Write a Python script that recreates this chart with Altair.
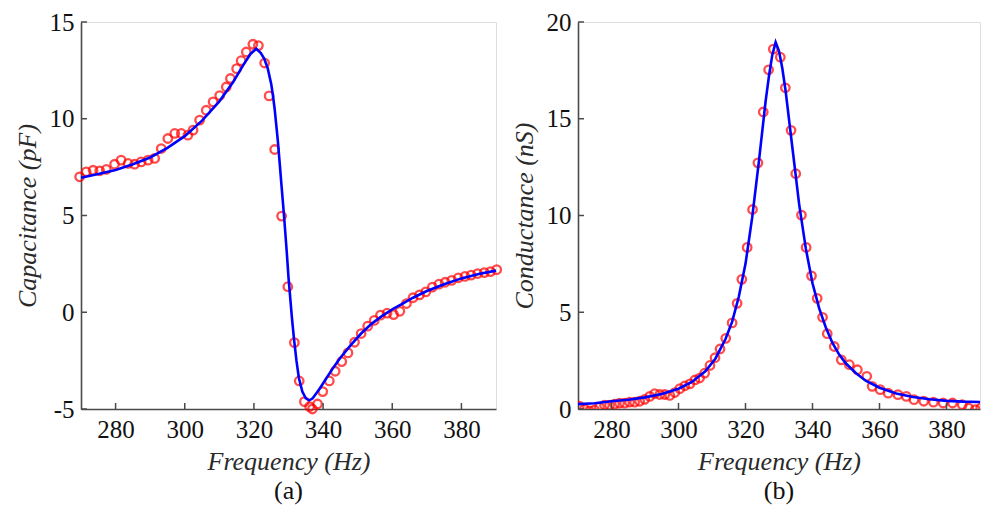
import altair as alt
import pandas as pd

# ---------------- Panel (a): capacitance ----------------
cap_freq = [269.6, 271.5, 273.5, 275.4, 277.3, 279.7, 281.6, 283.6, 285.5, 287.4,
            289.4, 291.3, 293.2, 295.1, 297.1, 299.0, 300.9, 302.4, 304.3, 306.2,
            308.2, 310.1, 312.0, 313.2, 315.0, 316.3, 317.8, 319.7, 321.3, 323.1,
            324.4, 326.0, 328.0, 329.8, 331.7, 333.1, 334.6, 336.1, 336.9, 338.4,
            339.9, 341.8, 343.5, 345.4, 347.2, 349.1, 351.0, 352.9, 354.8, 356.6,
            358.5, 360.4, 362.2, 364.1, 366.0, 367.9, 369.7, 371.6, 373.5, 375.3,
            377.2, 379.1, 381.0, 382.8, 384.7, 386.6, 388.4, 390.2]
cap_vals = [7.00, 7.26, 7.34, 7.31, 7.38, 7.65, 7.86, 7.69, 7.65, 7.77,
            7.86, 7.95, 8.46, 8.98, 9.24, 9.24, 9.15, 9.41, 9.93, 10.44,
            10.87, 11.20, 11.64, 12.08, 12.59, 13.00, 13.45, 13.85, 13.78, 12.88,
            11.18, 8.41, 4.97, 1.32, -1.57, -3.55, -4.62, -4.88, -5.00, -4.74,
            -4.10, -3.55, -3.05, -2.55, -2.10, -1.55, -1.10, -0.72, -0.42, -0.15,
            -0.05, -0.12, 0.05, 0.45, 0.75, 0.90, 1.05, 1.30, 1.45, 1.55,
            1.65, 1.78, 1.85, 1.92, 2.00, 2.05, 2.10, 2.20]

cap_fit_freq = [270, 275, 280, 285, 290, 295, 300, 305, 310, 314, 317, 319, 320.7,
                322, 323, 324, 325, 325.5, 326, 326.9, 327.5, 328, 328.7, 329.5, 330,
                331, 331.6, 332.3, 333, 334, 335, 336, 337, 338, 339, 341, 343, 345,
                348, 351, 354, 357, 360, 363, 366, 370, 375, 380, 385, 390]
cap_fit_vals = [6.95, 7.15, 7.35, 7.65, 8.0, 8.5, 9.1, 9.9, 10.9, 11.9, 12.8, 13.35, 13.62,
                13.4, 13.1, 12.6, 11.8, 11.2, 10.5, 8.9, 7.6, 6.5, 5.0, 3.1, 1.8,
                -0.3, -1.4, -2.5, -3.4, -4.1, -4.45, -4.55, -4.45, -4.2, -3.95, -3.4, -2.85, -2.35,
                -1.7, -1.1, -0.6, -0.2, 0.15, 0.45, 0.75, 1.1, 1.45, 1.75, 1.98, 2.15]

# ---------------- Panel (b): conductance ----------------
cond_freq = [270.4, 271.9, 273.4, 274.9, 276.4, 277.9, 279.4, 280.9, 282.4, 283.9,
             285.4, 286.9, 288.4, 289.9, 291.4, 292.9, 294.4, 295.9, 297.4, 298.9,
             300.4, 301.9, 303.4, 304.9, 306.3, 307.8, 309.4, 310.9, 312.4, 314.1,
             316.0, 317.5, 318.9, 320.5, 322.1, 323.7, 325.3, 326.9, 328.3, 330.4,
             331.9, 333.6, 335.0, 336.7, 338.1, 339.7, 341.4, 343.0, 344.4, 346.5,
             348.6, 351.0, 353.4, 356.2, 357.8, 360.2, 362.6, 365.5, 368.0, 370.3,
             373.2, 376.1, 379.0, 381.8, 384.7, 386.6, 388.6, 390.2]
cond_vals = [0.15, 0.00, -0.10, -0.05, 0.10, 0.20, 0.20, 0.25, 0.30, 0.30,
             0.35, 0.35, 0.40, 0.50, 0.65, 0.80, 0.75, 0.75, 0.70, 0.85,
             1.05, 1.20, 1.30, 1.50, 1.60, 1.85, 2.25, 2.65, 3.10, 3.65,
             4.45, 5.46, 6.70, 8.35, 10.31, 12.72, 15.35, 17.53, 18.60, 18.18,
             16.60, 14.40, 12.16, 10.02, 8.35, 6.88, 5.72, 4.74, 3.89, 3.23,
             2.54, 2.29, 2.03, 1.69, 1.17, 1.00, 0.82, 0.74, 0.65, 0.48,
             0.40, 0.35, 0.31, 0.31, 0.22, 0.05, -0.03, 0.05]

cond_fit_freq = [270, 275, 280, 285, 290, 295, 300, 304, 308, 311, 314, 316, 318, 320,
                 322, 324, 326, 327, 328, 329, 330, 331, 332, 334, 336, 338, 340, 342,
                 344, 346, 348, 350, 353, 356, 360, 365, 370, 375, 380, 385, 390]
cond_fit_vals = [0.25, 0.30, 0.40, 0.48, 0.60, 0.78, 1.05, 1.40, 1.95, 2.60, 3.60, 4.50, 5.80, 7.50,
                 9.90, 12.80, 15.90, 17.20, 18.30, 18.95, 18.50, 17.60, 16.40, 13.50, 10.60, 8.30, 6.50, 5.20,
                 4.20, 3.40, 2.80, 2.35, 1.85, 1.45, 1.10, 0.80, 0.62, 0.50, 0.42, 0.38, 0.36]

x_ticks = [280, 300, 320, 340, 360, 380]
cap_ticks = [-5, 0, 5, 10, 15]
cond_ticks = [0, 5, 10, 15, 20]

SERIF = "Liberation Serif, Times New Roman, serif"
AXIS_COLOR = "#4a4a4a"


def panel(pf, pv, ff, fv, yticks, ydom, ytitle, label, width, height, clip):
    pts = pd.DataFrame({"f": pf, "v": pv})
    fit = pd.DataFrame({"f": ff, "v": fv})
    xt = pd.DataFrame({"f": x_ticks})
    yt = pd.DataFrame({"v": yticks})

    xs = alt.Scale(domain=[270, 390], nice=False, zero=False)
    ys = alt.Scale(domain=ydom, nice=False, zero=False)
    X = alt.X("f:Q", scale=xs, axis=alt.Axis(
        values=x_ticks, ticks=False, tickSize=0, grid=False,
        domainColor=AXIS_COLOR, domainWidth=1.6,
        labelFont=SERIF, labelFontSize=25, labelColor="#111111", labelPadding=8,
        title="Frequency (Hz)", titleFont=SERIF, titleFontSize=26,
        titleFontStyle="italic", titleFontWeight="normal", titleColor="#2a2a2a",
        titlePadding=6))
    Y = alt.Y("v:Q", scale=ys, axis=alt.Axis(
        values=yticks, ticks=False, tickSize=0, grid=False,
        domainColor=AXIS_COLOR, domainWidth=1.6,
        labelFont=SERIF, labelFontSize=25, labelColor="#111111", labelPadding=7,
        labelExpr="'' + datum.value",
        title=ytitle, titleFont=SERIF, titleFontSize=26,
        titleFontStyle="italic", titleFontWeight="normal", titleColor="#2a2a2a",
        titlePadding=9))

    line = alt.Chart(fit).mark_line(color="#0000ff", strokeWidth=2.6, clip=clip).encode(x=X, y=Y)
    circ = alt.Chart(pts).mark_point(shape="circle", filled=False, color="#ff0000",
                                     size=72, strokeWidth=2.3, clip=clip).encode(x=X, y=Y)
    xtick = alt.Chart(xt).mark_rule(color=AXIS_COLOR, strokeWidth=1.5).encode(
        x=X, y=alt.value(height), y2=alt.value(height - 6))
    ytick = alt.Chart(yt).mark_rule(color=AXIS_COLOR, strokeWidth=1.5).encode(
        y=Y, x=alt.value(0), x2=alt.value(6))

    return alt.layer(circ, line, xtick, ytick).properties(
        width=width, height=height,
        title=alt.TitleParams(label, orient="bottom", font=SERIF, fontSize=26,
                              fontWeight="normal", color="#111111", offset=4))


left = panel(cap_freq, cap_vals, cap_fit_freq, cap_fit_vals, cap_ticks, [-5, 15],
             "Capacitance (pF)", "(a)", 415, 387, False)
right = panel(cond_freq, cond_vals, cond_fit_freq, cond_fit_vals, cond_ticks, [0, 20],
              "Conductance (nS)", "(b)", 402, 387, True)

chart = alt.hconcat(left, right, spacing=82, bounds="flush").properties(
    padding={"left": 5, "top": 1, "right": 0, "bottom": 0}
).configure_view(stroke=None).configure(background="white")

chart.save("out.html", embed_options={"renderer": "svg", "actions": False})
